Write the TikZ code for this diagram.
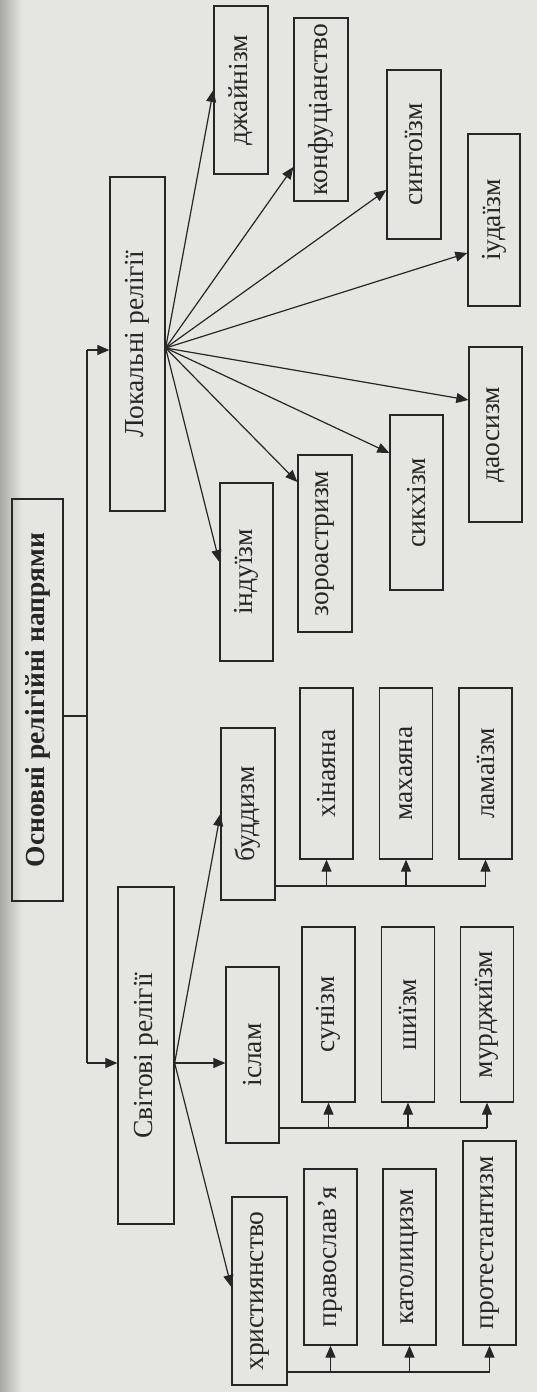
\documentclass[tikz,border=0pt]{standalone}
\usepackage{fontspec}
\setmainfont{Liberation Serif}
\usepackage{graphicx}
\usetikzlibrary{arrows.meta,calc}

\definecolor{paper}{RGB}{229,229,226}
\definecolor{shade}{RGB}{168,168,165}
\definecolor{ink}{RGB}{38,38,38}

\begin{document}
\begin{tikzpicture}[x=1pt,y=1pt,
	box/.style={draw=ink, line width=1.3pt, inner sep=0pt, minimum width=53pt, text=ink, font=\fontsize{27.5}{32}\selectfont},
	arr/.style={draw=ink, line width=1.2pt, -{Triangle[length=12pt,width=10pt]}},
	ln/.style={draw=ink, line width=1.2pt}]

	% paper
	\fill[paper] (0,0) rectangle (537,-1392);
	\shade[left color=shade, right color=paper] (0,0) rectangle (22,-1392);
	\useasboundingbox (0,0) rectangle (537,-1392);

	% main boxes
	\node[box, minimum width=51pt, minimum height=402pt, font=\fontsize{27.5}{32}\selectfont\bfseries] (osn) at (37.5,-700) {\rotatebox{90}{Основні релігійні напрями}};
	\node[box, minimum width=55pt, minimum height=334pt] (lok) at (137.5,-344) {\rotatebox{90}{Локальні релігії}};
	\node[box, minimum width=56pt, minimum height=337pt] (svit) at (146,-1055.5) {\rotatebox{90}{Світові релігії}};

	% local religions
	\node[box, minimum width=54pt, minimum height=168pt] (dzh) at (241,-90) {\rotatebox{90}{джайнізм}};
	\node[box, minimum width=54pt, minimum height=183pt] (konf) at (321,-109.5) {\rotatebox{90}{конфуціанство}};
	\node[box, minimum width=54pt, minimum height=169pt] (synt) at (414,-154.5) {\rotatebox{90}{синтоїзм}};
	\node[box, minimum width=52pt, minimum height=172pt] (iud) at (494,-220) {\rotatebox{90}{іудаїзм}};
	\node[box, minimum height=175pt] (daos) at (495.5,-434.5) {\rotatebox{90}{даосизм}};
	\node[box, minimum height=175pt] (sykh) at (416.5,-502.5) {\rotatebox{90}{сикхізм}};
	\node[box, minimum width=54pt, minimum height=177pt] (zor) at (325,-543.5) {\rotatebox{90}{зороастризм}};
	\node[box, minimum height=178pt] (ind) at (246.5,-572) {\rotatebox{90}{індуїзм}};

	% world religions
	\node[box, minimum width=54pt, minimum height=172pt] (budd) at (248,-814) {\rotatebox{90}{буддизм}};
	\node[box, minimum height=176pt] (isl) at (252.5,-1055) {\rotatebox{90}{іслам}};
	\node[box, minimum width=55pt, minimum height=188pt] (khr) at (259.5,-1291) {\rotatebox{90}{християнство}};

	% branches
	\node[box, minimum height=171pt] (khin) at (326.5,-773.5) {\rotatebox{90}{хінаяна}};
	\node[box, minimum height=171pt] (makh) at (406,-773.5) {\rotatebox{90}{махаяна}};
	\node[box, minimum height=171pt] (lam) at (485.5,-773.5) {\rotatebox{90}{ламаїзм}};
	\node[box, minimum height=175pt] (sun) at (328.5,-1014.5) {\rotatebox{90}{сунізм}};
	\node[box, minimum height=175pt] (shii) at (408,-1014.5) {\rotatebox{90}{шиїзм}};
	\node[box, minimum height=175pt] (murd) at (487,-1014.5) {\rotatebox{90}{мурджиїзм}};
	\node[box, minimum height=176pt] (prav) at (330.5,-1257) {\rotatebox{90}{православ’я}};
	\node[box, minimum height=176pt] (kat) at (409.5,-1257) {\rotatebox{90}{католицизм}};
	\node[box, minimum height=204pt] (prot) at (489.5,-1243) {\rotatebox{90}{протестантизм}};

	% trunk from the main box
	\coordinate (osnout) at ([yshift=-16pt]osn.east);
	\coordinate (trunk) at (87,-716);
	\coordinate (lokin) at ([yshift=-6pt]lok.west);
	\coordinate (svin) at ([yshift=-7.5pt]svit.west);
	\draw[ln] (osnout) -- (trunk);
	\draw[ln] (trunk |- lokin) -- (trunk |- svin);
	\draw[arr] (trunk |- lokin) -- (lokin);
	\draw[arr] (trunk |- svin) -- (svin);

	% fan of local religions
	\coordinate (lokout) at ([yshift=-4pt]lok.east);
	\foreach \t/\s in {dzh/0, konf/-57.5, synt/-35.5, iud/-33, daos/34.5, sykh/49.5, zor/61.5, ind/10}
	{
		\draw[arr] (lokout) -- ([yshift=\s pt]\t.west);
	}

	% fan of world religions
	\coordinate (svout) at ([yshift=-7.5pt]svit.east);
	\draw[arr] (svout) -- (budd.west);
	\draw[arr] (svout) -- (svout -| isl.west);
	\draw[arr] (svout) -- ([yshift=4pt]khr.west);

	% branch lines
	\coordinate (bb) at ([yshift=-72pt]budd.east);
	\coordinate (ib) at ([yshift=-73pt]isl.east);
	\coordinate (kb) at ([yshift=-81pt]khr.east);
	\draw[ln] (bb) -- (bb -| lam.south);
	\draw[ln] (ib) -- (ib -| murd.south);
	\draw[ln] (kb) -- (kb -| prot.south);
	\foreach \n in {khin,makh,lam}
		\draw[arr] (bb -| \n.south) -- (\n.south);
	\foreach \n in {sun,shii,murd}
		\draw[arr] (ib -| \n.south) -- (\n.south);
	\foreach \n in {prav,kat,prot}
		\draw[arr] (kb -| \n.south) -- (\n.south);

\end{tikzpicture}
\end{document}
